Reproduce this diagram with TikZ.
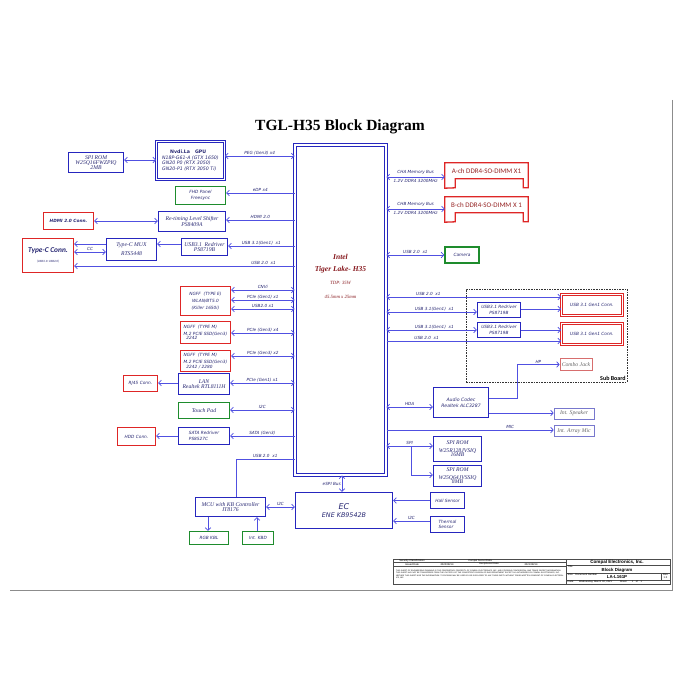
\documentclass[tikz,border=0pt]{standalone}
\usepackage{fontspec}
\setmainfont{Liberation Serif}
\newfontfamily\vfont{DejaVu Sans}
\newfontfamily\cfont{Carlito}
\newfontfamily\afont{Liberation Sans}
\usetikzlibrary{arrows.meta}

\definecolor{bxblue}{RGB}{38,38,190}
\definecolor{lnblue}{RGB}{80,80,225}
\definecolor{bxred}{RGB}{222,38,38}
\definecolor{bxgreen}{RGB}{30,140,45}
\definecolor{txnavy}{RGB}{40,40,115}
\definecolor{cpured}{RGB}{135,25,30}
\definecolor{dimmred}{RGB}{150,35,35}
\definecolor{thinred}{RGB}{215,110,110}
\definecolor{thinblue}{RGB}{120,120,205}

\newcommand\bxsans{\vfont\itshape\fontsize{4.3}{5.6}\selectfont}
\newcommand\bxserif{\itshape\fontsize{5.7}{6.6}\selectfont}
\newcommand\wiretext{\vfont\itshape\fontsize{4.2}{5}\selectfont}
\newcommand\tbtext{\afont\fontsize{2.6}{3}\selectfont}

\tikzset{
  blk/.style={draw=bxblue, line width=1.3pt, inner sep=0pt, align=center, text=txnavy},
  rblk/.style={blk, draw=bxred},
  gblk/.style={blk, draw=bxgreen},
  dblk/.style={blk, line width=.8pt, double=white, double distance=1.4pt},
  drblk/.style={dblk, draw=bxred},
  tblk/.style={blk, line width=.6pt},
  sz/.style 2 args={minimum width=#1, minimum height=#2},
  wire/.style={draw=lnblue, line width=.75pt},
  wlab/.style={font=\wiretext, text=txnavy, inner sep=.8pt},
  tb/.style={draw=black!70, line width=.3pt},
}

\begin{document}
\begin{tikzpicture}[x=1pt, y=-1pt, >={Straight Barb[length=2.6pt,width=5.5pt]}]
\useasboundingbox[fill=white] (0,0) rectangle (700,700);

\node[font=\bfseries\fontsize{15.5}{18}\selectfont] (title) at (340,127) {TGL-H35 Block Diagram};

% CPU
\node[dblk, draw=bxblue, line width=1pt, double distance=1.8pt, sz={91}{330}] (cpu) at (340.5,310) {};
\node[text=cpured, font=\bfseries\itshape\fontsize{7.5}{9}\selectfont] (cpu1) at (340.5,257) {Intel};
\node[text=cpured, font=\bfseries\itshape\fontsize{7.5}{9}\selectfont] (cpu2) at (340.5,269.5) {Tiger Lake- H35};
\node[text=cpured, font=\itshape\fontsize{4.8}{6}\selectfont] (cpu3) at (340.5,283) {TDP: 35W};
\node[text=cpured, font=\itshape\fontsize{4.8}{6}\selectfont] (cpu4) at (340.5,297) {45.5mm x 25mm};

% left side
\node[blk, sz={55}{20}, font=\bxserif] (spirom) at (96,162.5) {SPI ROM\\[-1.5pt]W25Q16FWZPIQ\\[-1.5pt]2MB};
\node[dblk, draw=bxblue, sz={68}{38}, font=\vfont\itshape\fontsize{4.7}{5.8}\selectfont, align=left] (gpu) at (190.5,160.5) {\hspace*{8pt}{\upshape\bfseries Nvdi.La\ \ \ GPU}\\N18P-G61-A (GTX 1650)\\GN20 P0 (RTX 3050)\\GN20-P1 (RTX 3050 Ti)};
\node[gblk, sz={50}{18}, font=\bxsans] (panel) at (200.5,195.5) {FHD Panel\\Freesync};
\node[blk, sz={67}{20}, font=\bxserif] (shifter) at (192,221.5) {Re-timing Level Shifter\\[-1.5pt]PS8409A};
\node[rblk, sz={50}{17}, font=\bxsans\bfseries] (hdmicon) at (68.5,221) {HDMI 2.0 Conn.};
\node[rblk, sz={51}{34}, font=\cfont\bfseries\itshape\fontsize{7.4}{9}\selectfont] (typec) at (48,255.5) {Type-C Conn.\\[1pt]{\mdseries\fontsize{3.2}{3.5}\selectfont (USB3.1+USB2.0)}};
\node[blk, sz={50}{22}, font=\bxserif] (mux) at (131.5,249.5) {Type-C MUX\\[2.5pt]RTS5448};
\node[blk, sz={46}{17}, font=\bxserif] (redrvc) at (204.5,247) {USB3.1\ \ Redriver\\[-1.5pt]PS8719B};
\node[rblk, sz={50}{29}, font=\bxsans] (ngffe) at (205.5,301) {NGFF\ \ (TYPE E)\\[1.5pt]WLAN/BT5.0\\[1.5pt](Killer 1650i)};
\node[rblk, sz={50}{22}, font=\bxsans, align=left] (ssd1) at (205.5,332.5) {NGFF\ \ (TYPE M)\\[1pt]M.2 PCIE SSD(Gen3)\\[-1pt]\ \ 2242};
\node[rblk, sz={50}{21}, font=\bxsans, align=left] (ssd2) at (205.5,361) {NGFF\ \ (TYPE M)\\[1pt]M.2 PCIE SSD(Gen3)\\[-1pt]\ \ 2242 / 2280};
\node[blk, sz={51}{21}, font=\bxserif] (lan) at (204,384) {LAN\\[-1.5pt]Realtek RTL8111H};
\node[rblk, sz={34}{16}, font=\bxsans] (rj45) at (140.5,383.5) {RJ45 Conn.};
\node[gblk, sz={51}{16}, font=\bxserif] (touchpad) at (204,410.5) {Touch Pad};
\node[blk, sz={51}{17}, font=\bxsans, align=left] (sata) at (204,436) {SATA Redriver\\PS8527C};
\node[rblk, sz={38}{18}, font=\bxsans] (hdd) at (136.5,436.5) {HDD Conn.};

% bottom
\node[blk, sz={70}{19}, font=\bxserif] (mcu) at (230.5,507) {MCU with KB Controller\\[-1.5pt]IT8176};
\node[blk, sz={97}{36}, font=\vfont\itshape\fontsize{6.4}{8}\selectfont] (ec) at (344,510.5) {{\fontsize{8}{9}\selectfont EC}\\ENE KB9542B};
\node[gblk, sz={39}{13}, font=\bxsans] (rgb) at (209,538) {RGB KBL};
\node[gblk, sz={31}{13}, font=\bxsans] (kbd) at (258,538) {Int. KBD};
\node[blk, sz={34}{16}, font=\bxsans] (hall) at (447.5,500.5) {Hall Sensor};
\node[blk, sz={34}{16}, font=\bxsans, align=left] (thermal) at (447.5,524.5) {Thermal\\Sensor};

% right side
\node[text=dimmred, font=\cfont\fontsize{7}{8}\selectfont, sz={83}{16}, inner sep=0pt] (ddra) at (486.5,171) {A-ch DDR4-SO-DIMM X1};
\node[text=dimmred, font=\cfont\fontsize{7}{8}\selectfont, sz={83}{16}, inner sep=0pt] (ddrb) at (486.5,205) {B-ch DDR4-SO-DIMM X 1};
\foreach \d in {ddra,ddrb}
  \draw[draw=bxred, line width=1.3pt] (\d.south west) ++(0,9) -- (\d.north west) -- (\d.north east) -- ++(0,25) -- ++(-5,0) -- ++(0,-9) -- ++(-68,0) -- ++(0,9) -- cycle;
\node[gblk, sz={34}{16}, font=\bxsans] (camera) at (462,255) {Camera};
\node[draw=black!80, line width=.7pt, dash pattern=on 1.6pt off 1pt, sz={161}{93}, inner sep=0pt] (sub) at (546.5,335.5) {};
\node[anchor=south east, font=\cfont\bfseries\fontsize{6}{7}\selectfont, inner sep=1.5pt] (subl) at (sub.south east) {Sub Board};
\node[drblk, sz={61}{21}, font=\bxsans] (usbc1) at (592,305) {USB 3.1 Gen1 Conn.};
\node[drblk, sz={61}{21}, font=\bxsans] (usbc2) at (592,334) {USB 3.1 Gen1 Conn.};
\node[blk, sz={43}{15}, font=\bxsans] (rdr1) at (499,310) {USB3.1 Redriver\\PS8719B};
\node[blk, sz={43}{15}, font=\bxsans] (rdr2) at (499,330) {USB3.1 Redriver\\PS8719B};
\node[tblk, draw=thinred, text=black!60, sz={32}{12}, font=\bxserif] (combo) at (576,364.5) {Combo Jack};
\node[blk, sz={55}{30}, font=\vfont\itshape\fontsize{4.6}{6.4}\selectfont] (codec) at (461,402.5) {Audio Codec\\Realtek ALC3287};
\node[tblk, draw=thinblue, text=black!60, sz={40}{11}, font=\bxserif] (speaker) at (574,413.5) {Int. Speaker};
\node[tblk, draw=thinblue, text=black!60, sz={40}{11}, font=\bxserif] (mic) at (574,431) {Int. Array Mic};
\node[blk, sz={48}{25}, font=\bxserif] (spi1) at (457.5,449) {SPI ROM\\[1pt]W25R128JVSIQ\\[-2pt]16MB};
\node[blk, sz={48}{21}, font=\bxserif] (spi2) at (457.5,476) {SPI ROM\\[1pt]W25Q64JVSSIQ\\[-2pt]8MB};

% connectors, left
\draw[wire,<->] (spirom.east |- 0,160) -- (gpu.west |- 0,160);
\draw[wire,<->] (gpu.east |- 0,156) -- node[wlab,above]{PEG (Gen3) x4} (cpu.west |- 0,156);
\draw[wire,->] (cpu.west |- 0,193) -- node[wlab,above]{eDP x4} (panel.east |- 0,193);
\draw[wire,->] (cpu.west |- 0,220) -- node[wlab,above]{HDMI 2.0} (shifter.east |- 0,220);
\draw[wire,<->] (hdmicon.east |- 0,221) -- (shifter.west |- 0,221);
\draw[wire,->] (cpu.west |- 0,246) -- node[wlab,above]{USB 3.1(Gen1)\ \ x1} (redrvc.east |- 0,246);
\draw[wire,->] (redrvc.west |- 0,244) -- (mux.east |- 0,244);
\draw[wire,->] (mux.west |- 0,244) -- (typec.east |- 0,244);
\draw[wire,<->] (typec.east |- 0,252) -- node[wlab,above]{CC} (mux.west |- 0,252);
\draw[wire,->] (cpu.west |- 0,266) -- node[wlab,above,pos=.14]{USB 2.0\ \ x1} (typec.east |- 0,266);
\foreach \y/\t in {290/CNVi, 300/PCIe (Gen1) x1, 309/USB2.0 x1}
  \draw[wire,<->] (ngffe.east |- 0,\y) -- node[wlab,above]{\t} (cpu.west |- 0,\y);
\draw[wire,<->] (ssd1.east |- 0,333) -- node[wlab,above]{PCIe (Gen3) x4} (cpu.west |- 0,333);
\draw[wire,<->] (ssd2.east |- 0,356) -- node[wlab,above]{PCIe (Gen3) x2} (cpu.west |- 0,356);
\draw[wire,<->] (lan.east |- 0,383) -- node[wlab,above]{PCIe (Gen1) x1} (cpu.west |- 0,383);
\draw[wire,->] (lan.west |- 0,383) -- (rj45.east |- 0,383);
\draw[wire,<->] (touchpad.east |- 0,410) -- node[wlab,above]{I2C} (cpu.west |- 0,410);
\draw[wire,->] (cpu.west |- 0,436) -- node[wlab,above]{SATA (Gen3)} (sata.east |- 0,436);
\draw[wire,->] (sata.west |- 0,436) -- (hdd.east |- 0,436);
\draw[wire] (cpu.west |- 0,459) -| node[wlab,above,pos=.25]{USB 2.0\ \ x1} ([xshift=5.5pt]mcu.north);

% connectors, bottom
\draw[wire,<->] (cpu.south -| 342,0) -- node[wlab,left]{eSPI Bus} (ec.north -| 342,0);
\draw[wire,<->] (mcu.east |- 0,507) -- node[wlab,above]{I2C} (ec.west |- 0,507);
\draw[wire,->] (mcu.south -| 208,0) -- (rgb.north -| 208,0);
\draw[wire,->] (kbd.north -| 257,0) -- (mcu.south -| 257,0);
\draw[wire,->] (hall.west) -- (ec.east |- hall.west);
\draw[wire,->] (thermal.west |- 0,521) -- node[wlab,above]{I2C} (ec.east |- 0,521);

% connectors, right
\draw[wire,<->] (cpu.east |- 0,177) -- node[wlab,above=1pt]{CHA Memory Bus} node[wlab,below=1pt]{1.2V DDR4 3200MHz} (ddra.west |- 0,177);
\draw[wire,<->] (cpu.east |- 0,209) -- node[wlab,above=1pt]{CHB Memory Bus} node[wlab,below=1pt]{1.2V DDR4 3200MHz} (ddrb.west |- 0,209);
\draw[wire,<->] (cpu.east |- 0,255) -- node[wlab,above]{USB 2.0\ \ x1} (camera.west |- 0,255);
\draw[wire,<->] (cpu.east |- 0,297) -- node[wlab,above,pos=.24]{USB 2.0\ \ x1} (usbc1.west |- 0,297);
\draw[wire,<->] (cpu.east |- 0,312) -- node[wlab,above,pos=.53]{USB 3.1(Gen1)\ \ x1} (rdr1.west |- 0,312);
\draw[wire,->] (rdr1.east |- 0,309) -- (usbc1.west |- 0,309);
\draw[wire,<->] (cpu.east |- 0,330) -- node[wlab,above,pos=.53]{USB 3.1(Gen1)\ \ x1} (rdr2.west |- 0,330);
\draw[wire,->] (rdr2.east |- 0,330) -- (usbc2.west |- 0,330);
\draw[wire,->] (cpu.east |- 0,341) -- node[wlab,above,pos=.23]{USB 2.0\ \ x1} (usbc2.west |- 0,341);
\draw[wire,<->] (cpu.east |- 0,407) -- node[wlab,above]{HDA} (codec.west |- 0,407);
\draw[wire,->] (codec.east |- 0,398) -- ++(28,0) |- node[wlab,above,pos=.75]{HP} (combo.west);
\draw[wire,->] (codec.east |- 0,413) -- (speaker.west |- 0,413);
\draw[wire,->] (cpu.east |- 0,430) -- node[wlab,above,pos=.74]{MIC} (mic.west |- 0,430);
\draw[wire,<->] (cpu.east |- 0,446) -- node[wlab,above]{SPI} (spi1.west |- 0,446);
\coordinate (spij) at (411,446);
\draw[wire,->] (spij) |- (spi2.west |- 0,475);

% page frame and title block
\draw[draw=black!45, line width=.4pt] (672,100) -- (672,590) -- (10,590);
\draw[tb] (393,559) rectangle (670,584);
\draw[tb] (566,559) -- (566,584) (393,562.5) -- (566,562.5) (393,566) -- (566,566)
  (566,565.5) -- (670,565.5) (566,573) -- (670,573) (566,580) -- (670,580) (661,573) -- (661,580);
\node[font=\tbtext] (tb1) at (412,560.8) {Security Classification};
\node[font=\tbtext] (tb2) at (480,560.8) {Compal Secret Data};
\node[font=\tbtext] (tb3) at (412,564.3) {Issued Date};
\node[font=\tbtext] (tb4) at (447,564.3) {2020/08/14};
\node[font=\tbtext] (tb5) at (489,564.3) {Deciphered Date};
\node[font=\tbtext] (tb6) at (531,564.3) {2021/08/14};
\node[font=\afont\fontsize{1.9}{2.3}\selectfont, text width=168pt, align=left, inner sep=0pt] (tb7) at (480,574.5) {THIS SHEET OF ENGINEERING DRAWING IS THE PROPRIETARY PROPERTY OF COMPAL ELECTRONICS, INC. AND CONTAINS CONFIDENTIAL AND TRADE SECRET INFORMATION. THIS SHEET MAY NOT BE TRANSFERED FROM THE CUSTODY OF THE COMPETENT DIVISION OF R\&D DEPARTMENT EXCEPT AS AUTHORIZED BY COMPAL ELECTRONICS, INC. NEITHER THIS SHEET NOR THE INFORMATION IT CONTAINS MAY BE USED BY OR DISCLOSED TO ANY THIRD PARTY WITHOUT PRIOR WRITTEN CONSENT OF COMPAL ELECTRONICS, INC.};
\node[font=\afont\bfseries\fontsize{4.6}{5}\selectfont] (tb8) at (617,562.3) {Compal Electronics, Inc.};
\node[font=\tbtext, anchor=west, inner sep=.5pt] (tb9) at (567,567) {Title};
\node[font=\afont\bfseries\fontsize{4.4}{5}\selectfont] (tb10) at (617,570) {Block Diagram};
\node[font=\tbtext, anchor=west, inner sep=.5pt] (tb11) at (567,574.5) {Size\quad Document Number};
\node[font=\afont\bfseries\fontsize{4.4}{5}\selectfont] (tb12) at (617,577.3) {LA-L161P};
\node[font=\tbtext, inner sep=.5pt] (tb13) at (665.5,574.5) {Rev};
\node[font=\tbtext, inner sep=.5pt] (tb14) at (665.5,577.5) {1.0};
\node[font=\tbtext, anchor=west, inner sep=.5pt] (tb15) at (567,582) {Date:\qquad Wednesday, March 03, 2021\qquad\quad Sheet\qquad 1\quad of\quad 1};
\end{tikzpicture}
\end{document}
